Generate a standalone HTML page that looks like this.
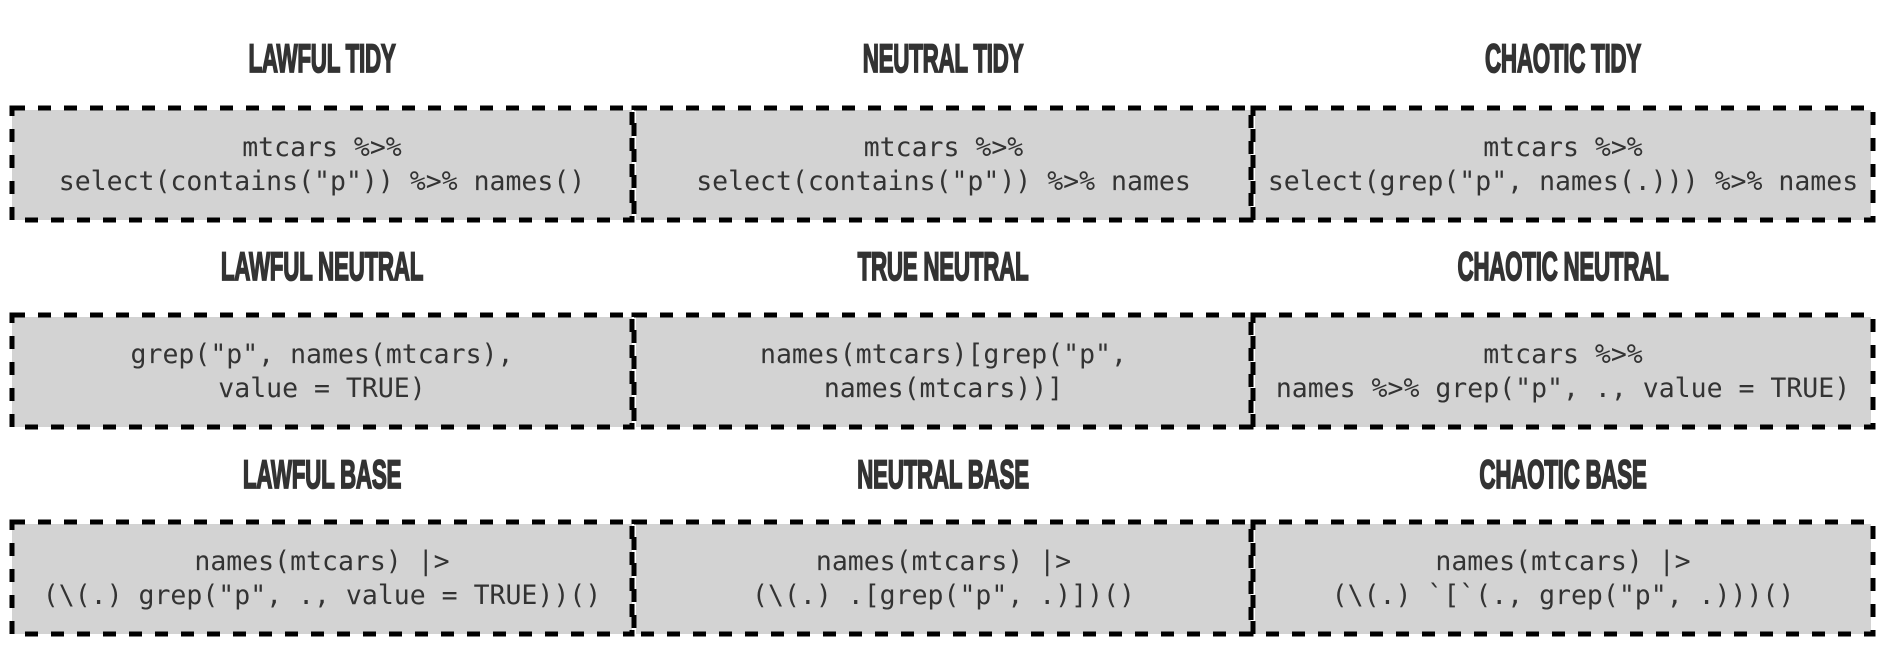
<!DOCTYPE html>
<html><head><meta charset="utf-8"><style>
body{margin:0;width:1886px;height:650px;background:#fff;position:relative;overflow:hidden}
.t{position:absolute;width:620px;text-align:center;font-family:"Liberation Sans",sans-serif;font-weight:bold;font-size:40px;color:#333;transform:scaleX(0.56);letter-spacing:-0.5px;line-height:40px;-webkit-text-stroke:1.8px #333}
.b{position:absolute;background:#d3d3d3;display:flex;align-items:center;justify-content:center;text-align:center;font-family:"DejaVu Sans Mono","Liberation Mono",monospace;font-size:26.5px;line-height:34px;color:#333;white-space:pre}
svg{position:absolute;left:0;top:0}
</style></head><body>
<div class="t" style="left:12px;top:39px">LAWFUL TIDY</div>
<div class="t" style="left:633px;top:39px">NEUTRAL TIDY</div>
<div class="t" style="left:1253px;top:39px">CHAOTIC TIDY</div>
<div class="t" style="left:12px;top:247px">LAWFUL NEUTRAL</div>
<div class="t" style="left:633px;top:247px">TRUE NEUTRAL</div>
<div class="t" style="left:1253px;top:247px">CHAOTIC NEUTRAL</div>
<div class="t" style="left:12px;top:455px">LAWFUL BASE</div>
<div class="t" style="left:633px;top:455px">NEUTRAL BASE</div>
<div class="t" style="left:1253px;top:455px">CHAOTIC BASE</div>

<div class="b" style="left:12px;top:110px;width:620px;height:110px">mtcars %&gt;%
select(contains("p")) %&gt;% names()</div>
<div class="b" style="left:636px;top:110px;width:615px;height:110px">mtcars %&gt;%
select(contains("p")) %&gt;% names</div>
<div class="b" style="left:1255px;top:110px;width:616px;height:110px">mtcars %&gt;%
select(grep("p", names(.))) %&gt;% names</div>
<div class="b" style="left:12px;top:317px;width:620px;height:110px">grep("p", names(mtcars),
value = TRUE)</div>
<div class="b" style="left:636px;top:317px;width:615px;height:110px">names(mtcars)[grep("p",
names(mtcars))]</div>
<div class="b" style="left:1255px;top:317px;width:616px;height:110px">mtcars %&gt;%
names %&gt;% grep("p", ., value = TRUE)</div>
<div class="b" style="left:12px;top:524px;width:620px;height:110px">names(mtcars) |&gt;
(\(.) grep("p", ., value = TRUE))()</div>
<div class="b" style="left:636px;top:524px;width:615px;height:110px">names(mtcars) |&gt;
(\(.) .[grep("p", .)])()</div>
<div class="b" style="left:1255px;top:524px;width:616px;height:110px">names(mtcars) |&gt;
(\(.) `[`(., grep("p", .)))()</div>

<svg width="1886" height="650" fill="none" stroke="#000" stroke-width="5" stroke-dasharray="13 13">
<rect x="12" y="108" width="620" height="112"/>
<rect x="634" y="108" width="617" height="112"/>
<rect x="1253" y="108" width="620" height="112"/>
<rect x="12" y="315" width="620" height="112"/>
<rect x="634" y="315" width="617" height="112"/>
<rect x="1253" y="315" width="620" height="112"/>
<rect x="12" y="522" width="620" height="112"/>
<rect x="634" y="522" width="617" height="112"/>
<rect x="1253" y="522" width="620" height="112"/>
</svg>
</body></html>
